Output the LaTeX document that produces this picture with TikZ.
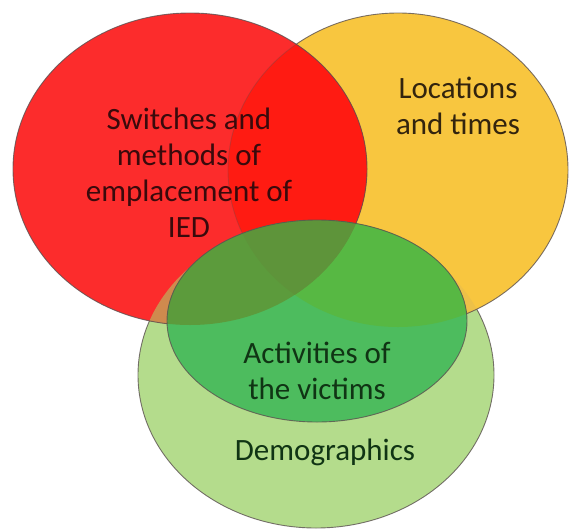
\documentclass[tikz,border=0pt]{standalone}
\usepackage{fontspec}
\setmainfont{Carlito}
\definecolor{lgc}{HTML}{B4DC8C}
\definecolor{yec}{HTML}{F8C63F}
\definecolor{rdc}{HTML}{FC2C2C}
\definecolor{rdyec}{HTML}{FF1B12}
\definecolor{rdlgc}{HTML}{CF8A4E}
\definecolor{yelgc}{HTML}{EDC048}
\definecolor{dgc}{HTML}{4DBC5E}
\definecolor{dgyec}{HTML}{57B843}
\definecolor{dgrdc}{HTML}{5C9B3C}
\definecolor{dgrdyec}{HTML}{5E943A}
\definecolor{linec}{HTML}{5A5050}
\definecolor{txred}{HTML}{3A0A0C}
\definecolor{txye}{HTML}{33240E}
\definecolor{txgr}{HTML}{103414}
\tikzset{
  outline/.style={draw=linec, line width=0.9pt, draw opacity=0.8},
  lbl/.style={font=\fontsize{31}{36}\selectfont, align=center, inner sep=0pt}
}
\def\pR{(190,-169) ellipse [x radius=177, y radius=156]}
\def\pY{(398,-170) ellipse [x radius=170, y radius=157]}
\def\pD{(317,-321) ellipse [x radius=150, y radius=101]}
\def\pL{(316,-375) ellipse [x radius=178, y radius=153]}
\begin{document}
\begin{tikzpicture}[x=1pt,y=1pt]
\useasboundingbox (0,0) rectangle (569,-530);
% light green
\fill[lgc] \pL;
\draw[outline] \pL;
% yellow
\fill[yec] \pY;
\begin{scope}\clip \pY; \fill[yelgc] \pL; \end{scope}
\draw[outline] \pY;
% red
\fill[rdc] \pR;
\begin{scope}\clip \pR; \fill[rdyec] \pY; \end{scope}
\begin{scope}\clip \pR; \fill[rdlgc] \pL; \end{scope}
\begin{scope}\clip \pR; \draw[outline, draw opacity=0.3] \pY; \end{scope}
\draw[outline] \pR;
% dark green
\fill[dgc] \pD;
\begin{scope}\clip \pD; \fill[dgyec] \pY; \end{scope}
\begin{scope}\clip \pD; \fill[dgrdc] \pR; \end{scope}
\begin{scope}\clip \pD; \clip \pR; \fill[dgrdyec] \pY; \end{scope}
\draw[outline] \pD;
% labels
\node[lbl, text=txred] (switch) at (189,-173) {Switches and\\methods of\\emplacement of\\IED};
\node[lbl, text=txye] (loc) at (458,-106) {Locations\\and times};
\node[lbl, text=txgr] (act) at (317,-371) {Activities of\\the victims};
\node[lbl, text=txgr] (demo) at (325,-452) {Demographics};
\end{tikzpicture}
\end{document}
